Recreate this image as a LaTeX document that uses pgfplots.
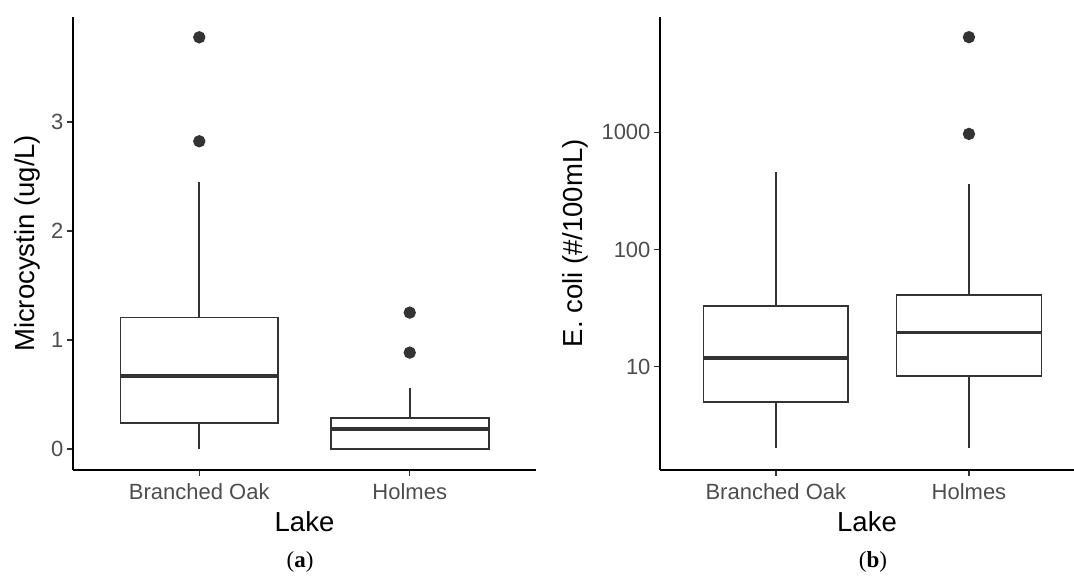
\documentclass[border=0pt]{standalone}
\usepackage{fontspec}
\setmainfont{Liberation Sans}
\newfontfamily\capfont{Liberation Serif}
\usepackage{pgfplots}
\pgfplotsset{compat=1.18}
\usepgfplotslibrary{statistics}

\definecolor{g20}{HTML}{333333}
\definecolor{g30}{HTML}{4D4D4D}

\pgfplotsset{
  lakeaxis/.style={
    scale only axis,
    anchor=south west,
    height=453.3pt,
    axis x line*=bottom, axis y line*=left,
    axis line style={black, line width=2pt},
    tick align=outside, major tick length=6pt, minor tick length=0pt,
    tick style={g20, line width=1.4pt},
    xmin=0.4,
    xtick={1,2}, xticklabels={Branched Oak, Holmes},
    ticklabel style={font=\fontsize{22}{26}\selectfont, text=g30},
    xticklabel style={yshift=-4pt},
    label style={font=\fontsize{27.5}{32}\selectfont},
    xlabel={Lake},
    xlabel style={at={(axis description cs:0.5,-0.1346)}, anchor=base},
    /pgf/number format/assume math mode=true,
    clip=false,
    boxplot/draw direction=y,
    boxplot/box extend=0.75,
    boxplot/whisker extend=0,
    boxplot/every median/.style={line width=3.6pt},
  },
  lakebox/.style={draw=g20, line width=1.7pt, fill=white, solid,
    mark=*, mark size=5.3pt, mark options={draw=none, fill=g20}},
}

\begin{document}
\begin{tikzpicture}
\useasboundingbox (0,0) rectangle (1074pt,577pt);

% (a) microcystin
\begin{axis}[lakeaxis,
  at={(73pt,107pt)}, width=463pt,
  xmax=2.6,
  ymin=-0.193, ymax=3.966,
  ytick={0,1,2,3}, yticklabels={0,1,2,3},
  ylabel={Microcystin (ug/L)},
  ylabel style={at={(axis description cs:-0.0994,0.5)}, anchor=center},
]
\addplot[lakebox, boxplot prepared={draw position=1,
  lower whisker=0, lower quartile=0.236, median=0.670,
  upper quartile=1.205, upper whisker=2.45}]
  coordinates {(1,2.823) (1,3.777)};
\addplot[lakebox, boxplot prepared={draw position=2,
  lower whisker=0, lower quartile=0, median=0.183,
  upper quartile=0.282, upper whisker=0.557}]
  coordinates {(2,0.884) (2,1.251)};
\end{axis}

% (b) E. coli
\begin{axis}[lakeaxis,
  at={(660pt,107pt)}, width=414pt,
  xmax=2.544,
  ymode=log,
  ymin=1.314, ymax=9683,
  ytick={10,100,1000}, yticklabels={10,100,1000},
  ylabel={E. coli (\#/100mL)},
  ylabel style={at={(axis description cs:-0.2036,0.5)}, anchor=center},
]
\addplot[lakebox, boxplot prepared={draw position=1,
  lower whisker=2.01, lower quartile=4.97, median=11.9,
  upper quartile=33.1, upper whisker=454}]
  coordinates {};
\addplot[lakebox, boxplot prepared={draw position=2,
  lower whisker=2.01, lower quartile=8.28, median=19.5,
  upper quartile=40.9, upper whisker=360}]
  coordinates {(2,968) (2,6475)};
\end{axis}

\node[font=\capfont\fontsize{23}{27}\selectfont, anchor=base] at (300pt,9pt) {(\textbf{a})};
\node[font=\capfont\fontsize{23}{27}\selectfont, anchor=base] at (873pt,9pt) {(\textbf{b})};
\end{tikzpicture}
\end{document}
